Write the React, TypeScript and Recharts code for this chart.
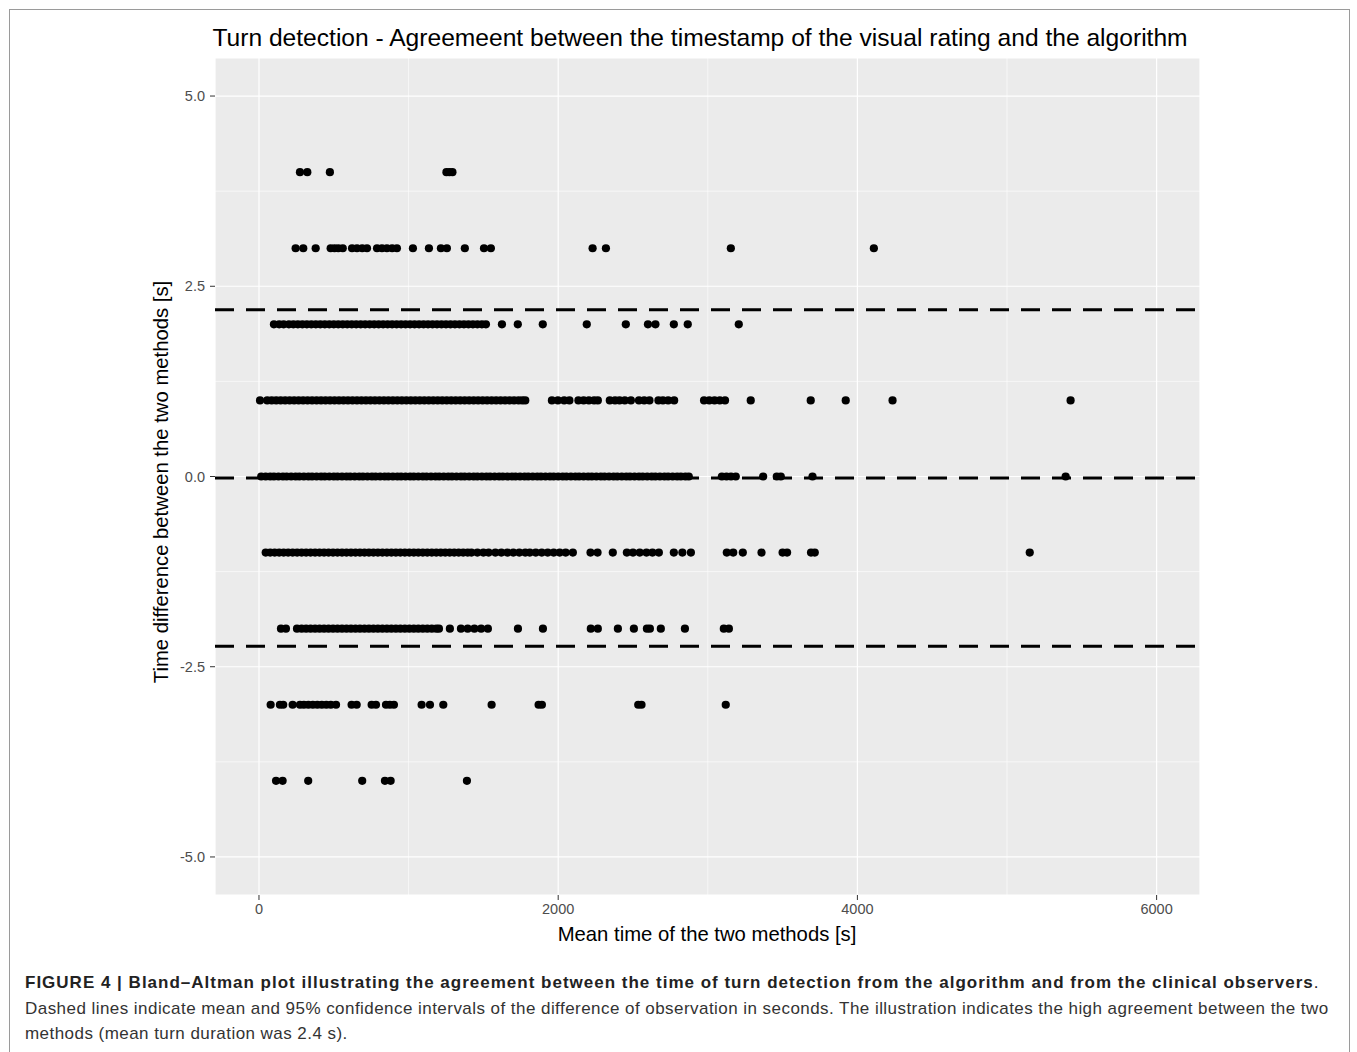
import React from 'react';
import { ScatterChart, Scatter, XAxis, YAxis, CartesianGrid, ReferenceLine } from 'recharts';

// Tick / grid values
const xMajorTicks = [0, 2000, 4000, 6000];
const xMinorTicks = [1000, 3000, 5000];
const yMajorTicks = [-5, -2.5, 0, 2.5, 5];
const yMinorTicks = [-3.75, -1.25, 1.25, 3.75];

// Bland-Altman statistics (dashed lines)
const meanDiff = -0.02;
const upperLoA = 2.19;
const lowerLoA = -2.23;

// Mean time [s] of each observation, grouped by the difference [s]
const diffPlus4 = [274, 323, 474, 1253, 1273, 1293];
const diffPlus3 = [245, 296, 379, 479, 505, 530, 560, 622, 655, 690, 722, 789, 822, 855, 890, 922, 1029, 1136, 1216, 1256, 1376, 1504, 1550, 2230, 2319, 3154, 4110];
const diffPlus2 = [100, 135, 165, 200, 230, 260, 290, 320, 350, 380, 410, 440, 470, 500, 530, 560, 590, 620, 650, 680, 710, 740, 770, 800, 830, 860, 890, 920, 950, 980, 1010, 1040, 1070, 1100, 1130, 1160, 1190, 1220, 1250, 1280, 1310, 1340, 1370, 1400, 1430, 1460, 1490, 1517, 1624, 1730, 1897, 2191, 2452, 2600, 2650, 2773, 2866, 3207];
const diffPlus1 = [7, 55, 85, 115, 145, 175, 205, 235, 265, 295, 325, 355, 385, 415, 445, 475, 505, 535, 565, 595, 625, 655, 685, 715, 745, 775, 805, 835, 865, 895, 925, 955, 985, 1015, 1045, 1075, 1105, 1135, 1165, 1195, 1225, 1255, 1285, 1315, 1345, 1375, 1405, 1435, 1465, 1495, 1525, 1555, 1585, 1615, 1645, 1675, 1705, 1735, 1760, 1780, 1958, 1998, 2040, 2075, 2135, 2170, 2205, 2240, 2265, 2345, 2380, 2410, 2445, 2486, 2540, 2575, 2610, 2670, 2700, 2735, 2775, 2975, 3010, 3045, 3080, 3115, 3287, 3688, 3922, 4235, 5425];
const diffZero = [15, 45, 75, 100, 130, 160, 185, 215, 245, 270, 300, 330, 355, 385, 415, 440, 470, 500, 525, 555, 585, 610, 640, 670, 695, 725, 755, 780, 810, 840, 865, 895, 925, 950, 980, 1010, 1035, 1065, 1095, 1120, 1150, 1180, 1205, 1235, 1265, 1290, 1320, 1350, 1375, 1405, 1435, 1460, 1490, 1520, 1545, 1575, 1605, 1630, 1660, 1690, 1715, 1745, 1775, 1800, 1830, 1860, 1885, 1915, 1945, 1970, 2000, 2030, 2055, 2085, 2115, 2140, 2170, 2200, 2225, 2255, 2285, 2310, 2340, 2370, 2395, 2425, 2455, 2480, 2510, 2540, 2565, 2595, 2625, 2650, 2680, 2710, 2735, 2765, 2795, 2820, 2850, 2873, 3094, 3125, 3155, 3187, 3370, 3461, 3488, 3700, 5392];
const diffMinus1 = [45, 75, 105, 135, 165, 195, 225, 255, 285, 315, 345, 375, 405, 435, 465, 495, 525, 555, 585, 615, 645, 675, 705, 735, 765, 795, 825, 855, 885, 915, 945, 975, 1005, 1035, 1065, 1095, 1125, 1155, 1185, 1215, 1245, 1275, 1305, 1335, 1365, 1395, 1420, 1460, 1500, 1535, 1580, 1620, 1660, 1700, 1740, 1780, 1810, 1850, 1890, 1930, 1970, 2010, 2050, 2098, 2216, 2263, 2365, 2459, 2500, 2545, 2590, 2630, 2673, 2773, 2830, 2887, 3127, 3170, 3234, 3359, 3500, 3530, 3690, 3715, 5152];
const diffMinus2 = [147, 180, 254, 285, 315, 345, 375, 405, 435, 465, 495, 525, 555, 585, 615, 645, 675, 705, 735, 765, 795, 825, 855, 885, 915, 945, 975, 1005, 1035, 1065, 1095, 1125, 1155, 1185, 1203, 1276, 1350, 1395, 1440, 1485, 1530, 1731, 1898, 2218, 2265, 2399, 2506, 2593, 2613, 2686, 2847, 3107, 3141];
const diffMinus3 = [78, 140, 162, 225, 274, 300, 330, 360, 390, 420, 450, 480, 515, 619, 653, 753, 782, 849, 875, 902, 1087, 1143, 1232, 1555, 1869, 1891, 2535, 2557, 3120];
const diffMinus4 = [114, 158, 329, 690, 842, 880, 1390];

const rows: [number, number[]][] = [
  [4, diffPlus4],
  [3, diffPlus3],
  [2, diffPlus2],
  [1, diffPlus1],
  [0, diffZero],
  [-1, diffMinus1],
  [-2, diffMinus2],
  [-3, diffMinus3],
  [-4, diffMinus4],
];

const points = rows.flatMap(([d, xs]) => xs.map((x) => ({ x, y: d })));

const FONT = '"Liberation Sans", Arial, Helvetica, sans-serif';

const Dot = (props: any) => {
  if (props.cx == null || props.cy == null) return null;
  return <circle cx={props.cx} cy={props.cy} r={4.1} fill="#000000" />;
};

export default function App() {
  return (
    <div style={{ position: 'absolute', left: 0, top: 0, width: 1357, height: 1052, background: '#fff', overflow: 'hidden', fontFamily: FONT }}>
      <div style={{ position: 'absolute', left: 9, top: 9, width: 1341, height: 1060, border: '1px solid #9a9a9a', boxSizing: 'border-box' }} />
      <div style={{ position: 'absolute', left: 0, top: 0 }}>
        <ScatterChart width={1357} height={960} margin={{ top: 58, right: 157, bottom: 35, left: 155 }}>
          <CartesianGrid fill="#EBEBEB" stroke="#FFFFFF" strokeWidth={1.2} />
          {xMinorTicks.map((v) => (
            <ReferenceLine key={'xm' + v} x={v} stroke="#FFFFFF" strokeWidth={0.6} zIndex={-50} />
          ))}
          {yMinorTicks.map((v) => (
            <ReferenceLine key={'ym' + v} y={v} stroke="#FFFFFF" strokeWidth={0.6} zIndex={-50} />
          ))}
          <XAxis
            type="number"
            dataKey="x"
            domain={[-294, 6290]}
            ticks={xMajorTicks}
            allowDataOverflow
            axisLine={false}
            tickLine={{ stroke: '#333333', strokeWidth: 1 }}
            tickSize={5}
            tickMargin={4}
            height={30}
            tick={{ fill: '#4D4D4D', fontSize: 14.5, fontFamily: FONT }}
          />
          <YAxis
            type="number"
            dataKey="y"
            domain={[-5.5, 5.5]}
            ticks={yMajorTicks}
            allowDataOverflow
            axisLine={false}
            tickLine={{ stroke: '#333333', strokeWidth: 1 }}
            tickSize={5}
            tickMargin={5}
            width={60}
            tickFormatter={(v: number) => v.toFixed(1)}
            tick={{ fill: '#4D4D4D', fontSize: 14.5, fontFamily: FONT }}
          />
          <Scatter data={points} shape={Dot} isAnimationActive={false} />
          {[upperLoA, meanDiff, lowerLoA].map((v) => (
            <ReferenceLine key={'loa' + v} y={v} stroke="#000000" strokeWidth={3} strokeDasharray="19 12" zIndex={700} />
          ))}
        </ScatterChart>
      </div>
      <div style={{ position: 'absolute', left: 700, top: 38, transform: 'translate(-50%, -50%)', whiteSpace: 'nowrap', fontSize: 24.6, color: '#000' }}>
        Turn detection - Agreemeent between the timestamp of the visual rating and the algorithm
      </div>
      <div style={{ position: 'absolute', left: 161, top: 482, transform: 'translate(-50%, -50%) rotate(-90deg)', whiteSpace: 'nowrap', fontSize: 20.3, color: '#000' }}>
        Time difference between the two methods [s]
      </div>
      <div style={{ position: 'absolute', left: 707, top: 934, transform: 'translate(-50%, -50%)', whiteSpace: 'nowrap', fontSize: 20.3, color: '#000' }}>
        Mean time of the two methods [s]
      </div>
      <div style={{ position: 'absolute', left: 25, top: 983, transform: 'translateY(-50%)', whiteSpace: 'nowrap', fontSize: 17, color: '#222' }}>
        <span style={{ fontWeight: 'bold', letterSpacing: 1.0 }}>FIGURE 4 | Bland–Altman plot illustrating the agreement between the time of turn detection from the algorithm and from the clinical observers</span>.
      </div>
      <div style={{ position: 'absolute', left: 25, top: 1009, transform: 'translateY(-50%)', whiteSpace: 'nowrap', fontSize: 17, letterSpacing: 0.45, color: '#333' }}>
        Dashed lines indicate mean and 95% confidence intervals of the difference of observation in seconds. The illustration indicates the high agreement between the two
      </div>
      <div style={{ position: 'absolute', left: 25, top: 1034, transform: 'translateY(-50%)', whiteSpace: 'nowrap', fontSize: 17, letterSpacing: 0.45, color: '#333' }}>
        methods (mean turn duration was 2.4 s).
      </div>
    </div>
  );
}
